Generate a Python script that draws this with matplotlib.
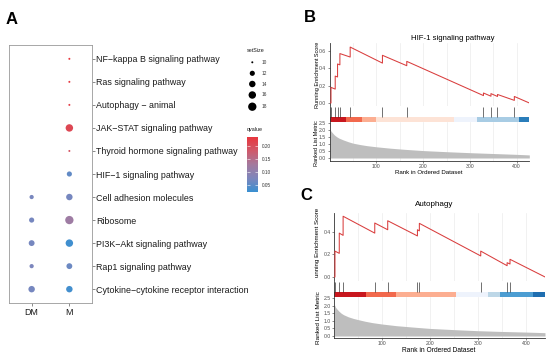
import numpy as np
import matplotlib
matplotlib.use("Agg")
import matplotlib.pyplot as plt
from matplotlib.colors import LinearSegmentedColormap, Normalize

plt.rcParams['font.family'] = ['Liberation Sans', 'DejaVu Sans']

W, H = 550, 361

# ---- panel A data ----
pathways = ["NF\u2212kappa B signaling pathway", "Ras signaling pathway", "Autophagy \u2212 animal",
            "JAK\u2212STAT signaling pathway", "Thyroid hormone signaling pathway",
            "HIF\u22121 signaling pathway", "Cell adhesion molecules", "Ribosome",
            "PI3K\u2212Akt signaling pathway", "Rap1 signaling pathway",
            "Cytokine\u2212cytokine receptor interaction"]
groups = ["DM", "M"]
m_size = [10, 10, 10, 16, 10, 12, 14, 18, 16, 13, 14]
m_q = [0.235, 0.23, 0.223, 0.21, 0.19, 0.054, 0.07, 0.12, 0.028, 0.062, 0.03]
dm_pathways = pathways[6:]
dm_size = [11, 12, 13, 11, 14]
dm_q = [0.072, 0.07, 0.07, 0.075, 0.07]
size_breaks = [10, 12, 14, 16, 18]
q_breaks = [0.05, 0.10, 0.15, 0.20]
q_min, q_max = 0.023, 0.235

# ---- panel B data (HIF-1) ----
hif_x = [0, 3, 3, 12, 12, 17, 17, 22, 22, 44, 44, 113, 113, 165, 165, 329, 329, 345, 345,
         359, 359, 395, 395, 427]
hif_es = [0, 0.0, 0.18, 0.16, 0.31, 0.30, 0.45, 0.44, 0.57, 0.53, 0.645, 0.46, 0.55, 0.43,
          0.48, 0.085, 0.115, 0.078, 0.108, 0.075, 0.098, 0.03, 0.075, 0.0]
hif_hits = [3, 12, 17, 22, 44, 113, 165, 329, 345, 359, 395]
hif_bar_edges = [0, 34, 70, 99, 265, 315, 406, 427]
hif_bar_colors = ['#C8171E', '#F2694D', '#FCAE91', '#FDE3D6', '#EEF3FC', '#A8CCE4', '#2A7DBA']
hif_rank_x = [1, 3, 6, 10, 15, 20, 30, 40, 50, 65, 80, 100, 130, 160, 200, 250, 300, 350, 400, 427]
hif_rank_y = [2.05, 1.92, 1.8, 1.65, 1.52, 1.42, 1.28, 1.16, 1.06, 0.96, 0.88, 0.8, 0.7,
              0.62, 0.53, 0.45, 0.38, 0.32, 0.26, 0.22]

# ---- panel C data (Autophagy) ----
aut_x = [0, 2, 2, 11, 11, 19, 19, 85, 85, 112, 112, 174, 174, 178, 178, 306, 306, 361, 361,
         367, 367, 440]
aut_es = [0, 0.0, 0.23, 0.21, 0.39, 0.37, 0.54, 0.39, 0.48, 0.42, 0.50, 0.365, 0.42, 0.41,
          0.477, 0.187, 0.23, 0.10, 0.127, 0.115, 0.157, 0.0]
aut_hits = [2, 11, 19, 85, 112, 174, 178, 306, 361, 367]
aut_bar_edges = [0, 67, 129, 255, 321, 347, 414, 440]
aut_bar_colors = ['#C8171E', '#F2694D', '#FCAE91', '#EEF3FC', '#BDD7E7', '#4C9DD2', '#1F6EB0']
aut_rank_x = [1, 3, 6, 10, 15, 20, 30, 40, 50, 65, 80, 100, 130, 160, 200, 250, 300, 350, 400, 440]
aut_rank_y = [2.05, 1.9, 1.78, 1.64, 1.5, 1.4, 1.26, 1.16, 1.08, 0.97, 0.88, 0.79, 0.68,
              0.6, 0.5, 0.42, 0.35, 0.3, 0.26, 0.22]

cmap = LinearSegmentedColormap.from_list(
    "q", ['#3A90D1', '#7E86BC', '#A47A9E', '#D05A6B', '#E8373E'])
norm = Normalize(q_min, q_max)


def box(x0, y0, x1, y1):
    return [x0 / W, 1 - y1 / H, (x1 - x0) / W, (y1 - y0) / H]


def size_s(v):
    d = 2.0 + 6.3 * np.sqrt((np.asarray(v, float) - 10) / 8)
    return (d * 0.72) ** 2


fig = plt.figure(figsize=(5.5, 3.61), dpi=100)

# ---- panel A ----
axA = fig.add_axes(box(9, 45, 92, 303))
ny = len(pathways)
ypos = {p: ny - 1 - i for i, p in enumerate(pathways)}
axA.scatter([1] * ny, [ypos[p] for p in pathways], s=size_s(m_size),
            c=cmap(norm(m_q)), edgecolors='none', zorder=3)
axA.scatter([0] * len(dm_pathways), [ypos[p] for p in dm_pathways], s=size_s(dm_size),
            c=cmap(norm(dm_q)), edgecolors='none', zorder=3)
axA.set_xlim(-0.6, 1.6)
axA.set_ylim(-0.6, ny - 0.4)
axA.set_xticks([0, 1])
axA.set_xticklabels(groups)
axA.yaxis.tick_right()
axA.set_yticks([ypos[p] for p in pathways])
axA.set_yticklabels(pathways)
axA.tick_params(axis='y', length=2, width=0.4, color='#333333', labelsize=6.4, pad=1,
                labelcolor='#1A1A1A')
axA.tick_params(axis='x', length=2, width=0.4, color='#333333', labelsize=6.4, pad=1.5,
                labelcolor='#1A1A1A')
for sp in axA.spines.values():
    sp.set_color('#999999')
    sp.set_linewidth(0.6)

# colorbar legend
cax = fig.add_axes(box(247, 137, 258, 192))
cax.imshow(np.linspace(q_min, q_max, 200)[:, None], aspect='auto', cmap=cmap, norm=norm,
           origin='lower', extent=[0, 1, q_min, q_max])
cax.set_ylim(q_min, q_max)
cax.set_xticks([])
cax.yaxis.tick_right()
cax.set_yticks(q_breaks)
cax.set_yticklabels(["%.2f" % q for q in q_breaks])
cax.tick_params(axis='y', direction='in', length=2, width=0.4, color='white',
                labelsize=3.4, pad=2.5, labelcolor='#333333', left=True, right=True)
for sp in cax.spines.values():
    sp.set_visible(False)

# ---- GSEA panels ----
def gsea(left, right, xmax, es_box, es_lim, es_ticks, tk_box, tick_frac, rk_box, rk_lim,
         es_x, es_y, hits, edges, colors, rx, ry):
    ax1 = fig.add_axes(box(left, es_box[0], right, es_box[1]))
    ax1.plot(es_x, es_y, color='#D93D3D', lw=0.75, zorder=3)
    ax1.set_xlim(0, xmax)
    ax1.set_ylim(*es_lim)
    ax1.set_yticks(es_ticks)
    ax1.set_yticklabels(["%.1f" % t for t in es_ticks])
    ax1.set_xticks([100, 200, 300, 400])
    ax1.set_xticks([50, 150, 250, 350], minor=True)
    ax1.grid(axis='x', which='both', color='#EBEBEB', lw=0.5)
    ax1.tick_params(axis='x', which='both', length=0, labelbottom=False)

    ax2 = fig.add_axes(box(left, tk_box[0], right, tk_box[1]))
    ax2.vlines(hits, tick_frac[0], tick_frac[1], color='#222222', lw=0.45)
    for i, c in enumerate(colors):
        ax2.axvspan(edges[i], edges[i + 1], 0, tick_frac[0], color=c, lw=0)
    ax2.set_xlim(0, xmax)
    ax2.set_ylim(0, 1)
    ax2.set_xticks([])
    ax2.set_yticks([])

    ax3 = fig.add_axes(box(left, rk_box[0], right, rk_box[1]))
    ax3.fill_between(rx, 0, ry, color='#BEBEBE', lw=0, zorder=2)
    ax3.set_xlim(0, xmax)
    ax3.set_ylim(*rk_lim)
    ax3.set_yticks([0, 0.5, 1.0, 1.5, 2.0, 2.5])
    ax3.set_yticklabels(["0.0", "0.5", "1.0", "1.5", "2.0", "2.5"])
    ax3.set_xticks([100, 200, 300, 400])
    ax3.set_xticks([50, 150, 250, 350], minor=True)
    ax3.grid(axis='x', which='both', color='#EBEBEB', lw=0.5, zorder=0)
    ax3.tick_params(axis='x', which='minor', length=0)

    for ax in (ax1, ax2, ax3):
        ax.spines['top'].set_visible(False)
        ax.spines['right'].set_visible(False)
        ax.spines['bottom'].set_visible(ax is ax3)
        for s in ('left', 'bottom'):
            ax.spines[s].set_color('#333333')
            ax.spines[s].set_linewidth(0.6)
        ax.tick_params(which='major', length=1.5, width=0.4, color='#333333',
                       labelsize=3.7, pad=1, labelcolor='#4D4D4D')
        ax.set_axisbelow(True)


gsea(329.6, 529.3, 427, (43, 106), (-0.035, 0.692), [0.0, 0.2, 0.4, 0.6],
     (106, 121.5), (0.29, 0.94), (121.5, 160.5), (-0.179, 2.607),
     hif_x, hif_es, hif_hits, hif_bar_edges, hif_bar_colors, hif_rank_x, hif_rank_y)
gsea(334, 545, 440, (213, 281), (-0.036, 0.569), [0.0, 0.2, 0.4],
     (281, 297), (0.33, 0.96), (297, 338), (-0.13, 2.566),
     aut_x, aut_es, aut_hits, aut_bar_edges, aut_bar_colors, aut_rank_x, aut_rank_y)

# ---- overlay texts and size legend ----
ov = fig.add_axes([0, 0, 1, 1], zorder=-5)
ov.set_xlim(0, W)
ov.set_ylim(H, 0)
ov.axis('off')

ov.text(6, 19, "A", fontsize=12, fontweight='bold', va='center', ha='left')
ov.text(304, 18, "B", fontsize=12, fontweight='bold', va='center', ha='left')
ov.text(300, 195, "C", fontsize=12, fontweight='bold', va='center', ha='left')

leg_y = [62.3, 73.3, 84, 95, 106.7]
ov.text(246.5, 50.5, "setSize", fontsize=3.9, va='center', ha='left', color='#1A1A1A')
ov.scatter([252.3] * len(size_breaks), leg_y, s=size_s(size_breaks),
           color='black', edgecolors='none')
for yy, b in zip(leg_y, size_breaks):
    ov.text(261.5, yy, str(b), fontsize=3.4, va='center', ha='left', color='#333333')
ov.text(247, 130, "qvalue", fontsize=3.9, va='center', ha='left', color='#1A1A1A')

ov.text(453, 39, "HIF-1 signaling pathway", fontsize=5.6, ha='center', va='center')
ov.text(473, 60, "NES:1.772", fontsize=4.6, ha='left', va='center')
ov.text(473, 67.5, "qvalue:0.054", fontsize=4.6, ha='left', va='center')
ov.text(317, 75, "Running Enrichment Score", fontsize=4.0, rotation=90, ha='center', va='center')
ov.text(317, 143, "Ranked List Metric", fontsize=4.0, rotation=90, ha='center', va='center')
ov.text(429, 172, "Rank in Ordered Dataset", fontsize=4.4, ha='center', va='center')

ov.text(434, 205, "Autophagy", fontsize=5.8, ha='center', va='center')
ov.text(488, 224, "NES: 1.424", fontsize=4.8, ha='left', va='center')
ov.text(488, 232, "qvalue: 0.223", fontsize=4.8, ha='left', va='center')
ov.text(318, 242, "unning Enrichment Score", fontsize=4.5, rotation=90, ha='center', va='center')
ov.text(318, 318, "Ranked List Metric", fontsize=4.6, rotation=90, ha='center', va='center')
ov.text(439, 350, "Rank in Ordered Dataset", fontsize=4.8, ha='center', va='center')

fig.savefig("out.png", dpi=100)
